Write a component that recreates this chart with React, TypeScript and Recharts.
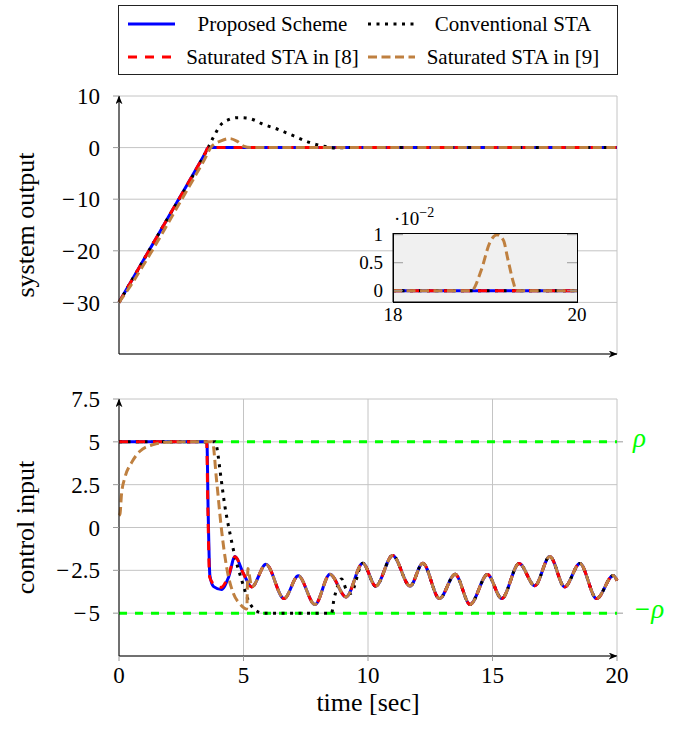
import React from "react";
import { LineChart, Line, XAxis, YAxis, CartesianGrid, ReferenceLine } from "recharts";

const FONT = '"Liberation Serif", "Times New Roman", serif';
const BLUE = "#0000ff";
const RED = "#ff0000";
const BLACK = "#000000";
const BROWN = "#bf8040";
const GREEN = "#00ff00";
const GRID = "#c4c4c4";
const TICK = "#9a9a9a";

// time axis
const timeTicks = [0, 5, 10, 15, 20];

// system output (top panel)
const outTicks = [-30, -20, -10, 0, 10];
const outProposedT = [0, 1.8, 3.45, 3.59, 20];
const outProposedY = [-30, -15, -1.2, 0, 0];
const outSat8T = [0, 1.8, 3.45, 3.59, 20];
const outSat8Y = [-30, -15, -1.2, 0, 0];
const outConvT = [0, 1.8, 3.45, 3.6, 3.78, 4.1, 4.4, 4.75, 5.1, 5.4, 5.75, 6.35, 7.0, 7.65, 8.3, 8.7, 9.1, 20];
const outConvY = [-30, -15, -1.2, 0.2, 1.9, 4.5, 5.4, 5.8, 5.75, 5.4, 4.6, 3.6, 2.3, 1.0, 0.2, -0.1, 0, 0];
const outSat9T = [0, 0.5, 1, 1.5, 2, 2.5, 3, 3.4, 3.7, 4.1, 4.45, 4.75, 5.0, 5.3, 20];
const outSat9Y = [-30, -26.5, -22.6, -18.6, -14.4, -10.2, -6, -2.6, 0.1, 1.3, 1.75, 1.2, 0.3, 0, 0];

// inset (x 10^-2), t in [18, 20]
const insetT = [18, 18.85, 18.96, 19.05, 19.13, 19.2, 19.25, 19.31, 19.34, 20];
const insetProposed = [0, 0, 0, 0, 0, 0, 0, 0, 0, 0];
const insetConv = [0, 0, 0, 0, 0, 0, 0, 0, 0, 0];
const insetSat8 = [0, 0, 0, 0, 0, 0, 0, 0, 0, 0];
const insetSat9 = [0, 0, 0.37, 0.85, 1.0, 0.9, 0.55, 0.14, 0, 0];

// control input (bottom panel)
const uTicks = [-5, -2.5, 0, 2.5, 5, 7.5];
const uTailT = [5.9, 6.63, 7.2, 7.87, 8.47, 9.12, 9.79, 10.31, 10.99, 11.69, 12.2, 12.87, 13.5, 14.1, 14.8, 15.37, 16.07, 16.7, 17.3, 17.9, 18.51, 19.18, 19.85, 20];
const uTailU = [-2.15, -4.15, -2.82, -4.5, -2.73, -4.05, -2.08, -3.42, -1.63, -3.42, -2.08, -4.15, -2.73, -4.49, -2.75, -4.15, -2.1, -3.4, -1.69, -3.47, -2.1, -4.15, -2.8, -3.1];
const uProposedT = [0, 3.53, 3.58, 3.65, 3.8, 4.12, 4.4, 4.66, 5.0, 5.33];
const uProposedU = [5, 5, 1, -2.8, -3.45, -3.62, -2.9, -1.69, -2.7, -3.47];
const uSat8T = [0, 3.52, 3.57, 3.64, 3.8, 4.1, 4.4, 4.66, 5.0, 5.33];
const uSat8U = [5, 5, 1, -2.9, -3.3, -3.5, -2.8, -1.7, -2.7, -3.47];
const uConvT = [0, 3.86, 3.99, 4.06, 4.26, 4.46, 4.66, 4.93, 5.19, 5.46, 5.8, 8.54, 8.62, 8.74, 8.94, 9.12, 9.3];
const uConvU = [5, 5, 4.1, 3.3, 1.18, -0.37, -1.72, -3.08, -4.24, -4.8, -5, -5, -4.3, -3.6, -3.0, -3.6, -3.85];
const uSat9T = [0, 0.04, 0.1, 0.24, 0.51, 0.84, 1.38, 1.9, 2.8, 3.75, 3.92, 4.12, 4.32, 4.59, 4.85, 5.13, 5.18, 5.26, 5.33];
const uSat9U = [0.7, 0.8, 1.93, 2.93, 3.8, 4.45, 4.84, 4.97, 5, 5, 2.73, -0.17, -2.3, -3.84, -4.45, -4.75, -2.4, -3.0, -3.47];
const rho = 5;

const pts = (t: number[], v: number[]) => t.map((x, i) => ({ t: x, v: v[i] }));
const tail = pts(uTailT, uTailU);

const SERIES = [
  { name: "Proposed Scheme", stroke: BLUE, dash: undefined as string | undefined },
  { name: "Conventional STA", stroke: BLACK, dash: "3 5.5" },
  { name: "Saturated STA in [8]", stroke: RED, dash: "9 8" },
  { name: "Saturated STA in [9]", stroke: BROWN, dash: "9 4.5" },
];

const outData = [
  pts(outProposedT, outProposedY),
  pts(outConvT, outConvY),
  pts(outSat8T, outSat8Y),
  pts(outSat9T, outSat9Y),
];
const insetData = [
  pts(insetT, insetProposed),
  pts(insetT, insetConv),
  pts(insetT, insetSat8),
  pts(insetT, insetSat9),
];
const uData = [
  [...pts(uProposedT, uProposedU), ...tail],
  [...pts(uConvT, uConvU), ...tail.filter((p) => p.t > 9.5)],
  [...pts(uSat8T, uSat8U), ...tail],
  [...pts(uSat9T, uSat9U), ...tail],
];

const fmt = (v: number) => (v < 0 ? "\u2212\u200a" + Math.abs(v) : String(v));
const tickStyle = { fontSize: 23, fill: "#000", fontFamily: FONT };

const Arrow = ({ id }: { id: string }) => (
  <defs>
    <marker id={id} viewBox="0 0 10 8" refX="9.5" refY="4" markerWidth="9" markerHeight="7" markerUnits="userSpaceOnUse" orient="auto-start-reverse">
      <path d="M0,0 L10,4 L0,8 L3,4 Z" fill="#000" />
    </marker>
  </defs>
);

const YLabel = ({ viewBox, text }: any) => {
  const x = 25;
  const y = viewBox.y + viewBox.height / 2;
  return (
    <text x={x} y={y} transform={`rotate(-90 ${x} ${y})`} textAnchor="middle" dominantBaseline="central" fontSize={26} fontFamily={FONT} fill="#000">
      {text}
    </text>
  );
};

const XLabel = ({ viewBox, text }: any) => (
  <text x={viewBox.x + viewBox.width / 2} y={viewBox.y + 55} textAnchor="middle" fontSize={26} fontFamily={FONT} fill="#000">
    {text}
  </text>
);

// tick + green label to the right of a reference line
const RhoLabel = ({ viewBox, text }: any) => {
  const x = viewBox.x + viewBox.width;
  const y = viewBox.y;
  return (
    <g>
      <line x1={x} x2={x + 6} y1={y} y2={y} stroke={TICK} />
      <text x={x + 16} y={y - 4} dominantBaseline="central" fontSize={27} fontStyle="italic" fontFamily={FONT} fill={GREEN}>
        {text}
      </text>
    </g>
  );
};

const INSET_W = 184;
const InsetYTick = ({ x, y, payload }: any) => (
  <g>
    <text x={x} y={y} textAnchor="end" dominantBaseline="central" fontSize={19} fontFamily={FONT} fill="#000">
      {payload.value}
    </text>
    <line x1={x + 10} x2={x + 20} y1={y} y2={y} stroke={TICK} />
    <line x1={x + 10 + INSET_W - 10} x2={x + 10 + INSET_W} y1={y} y2={y} stroke={TICK} />
  </g>
);

const InsetScale = ({ viewBox }: any) => (
  <text x={viewBox.x + viewBox.width + 1} y={viewBox.y - 8} fontSize={19} fontFamily={FONT} fill="#000">
    ·10
    <tspan dy={-8} fontSize={14}>
      −2
    </tspan>
  </text>
);

const renderLines = (data: { t: number; v: number }[][], yAxisId?: string) =>
  SERIES.map((s, i) => (
    <Line
      key={s.name}
      data={data[i]}
      dataKey="v"
      yAxisId={yAxisId}
      type="monotone"
      stroke={s.stroke}
      strokeWidth={3}
      strokeDasharray={s.dash}
      dot={false}
      activeDot={false}
      isAnimationActive={false}
    />
  ));

function LegendBox() {
  const cell = (s: (typeof SERIES)[number], left: number, top: number, textW: number) => (
    <>
      <svg width={47} height={10} style={{ position: "absolute", left, top: top - 5 }}>
        <line x1={0} x2={47} y1={5} y2={5} stroke={s.stroke} strokeWidth={3} strokeDasharray={s.dash} />
      </svg>
      <div style={{ position: "absolute", left: left + 47, top: top - 13, width: textW, textAlign: "center", fontSize: 21, lineHeight: "26px" }}>
        {s.name}
      </div>
    </>
  );
  return (
    <div style={{ position: "absolute", left: 118, top: 5, width: 500, height: 70, border: "1px solid #222", boxSizing: "border-box", background: "#fff", fontFamily: FONT }}>
      {cell(SERIES[0], 9, 18, 195)}
      {cell(SERIES[1], 249, 18, 196)}
      {cell(SERIES[2], 9, 51, 195)}
      {cell(SERIES[3], 249, 51, 196)}
    </div>
  );
}

export default function App() {
  return (
    <div style={{ position: "absolute", left: 0, top: 0, width: 686, height: 731, background: "#fff", fontFamily: FONT }}>
      <LineChart width={686} height={380} margin={{ top: 96, right: 69, bottom: 0, left: 0 }} style={{ position: "absolute", left: 0, top: 0 }}>
        <Arrow id="arrTop" />
        <CartesianGrid stroke={GRID} />
        <XAxis
          type="number"
          dataKey="t"
          domain={[0, 20]}
          ticks={timeTicks}
          height={26}
          tick={false}
          tickSize={5}
          tickLine={{ stroke: TICK }}
          axisLine={{ stroke: "#000", markerEnd: "url(#arrTop)" }}
        />
        <YAxis
          type="number"
          domain={[-40, 10]}
          ticks={outTicks}
          width={119}
          tick={tickStyle}
          tickFormatter={fmt}
          tickSize={6}
          tickMargin={13}
          tickLine={{ stroke: TICK }}
          axisLine={{ stroke: "#000", markerStart: "url(#arrTop)" }}
          label={<YLabel text="system output" />}
        />
        {renderLines(outData)}
      </LineChart>

      <LineChart width={270} height={130} margin={{ top: 28, right: 23, bottom: 0, left: 0 }} style={{ position: "absolute", left: 330, top: 205 }}>
        <CartesianGrid fill="#f0f0f0" horizontal={false} vertical={false} />
        <XAxis
          type="number"
          dataKey="t"
          domain={[18, 20]}
          ticks={[18, 20]}
          height={33}
          tickSize={0}
          tickMargin={6}
          tickLine={false}
          tick={{ fontSize: 19, fill: "#000", fontFamily: FONT }}
          axisLine={{ stroke: "#000" }}
        />
        <YAxis
          type="number"
          domain={[-0.2, 1.03]}
          ticks={[0, 0.5, 1]}
          width={63}
          tickSize={0}
          tickMargin={10}
          tickLine={false}
          tick={<InsetYTick />}
          axisLine={{ stroke: "#000" }}
          label={<InsetScale />}
        />
        {renderLines(insetData)}
      </LineChart>
      <div style={{ position: "absolute", left: 393, top: 233, width: INSET_W + 1, height: 70, border: "1px solid #000", boxSizing: "border-box", pointerEvents: "none" }} />

      <LineChart width={686} height={351} margin={{ top: 19, right: 69, bottom: 0, left: 0 }} style={{ position: "absolute", left: 0, top: 380 }}>
        <Arrow id="arrBot" />
        <CartesianGrid stroke={GRID} />
        <XAxis
          type="number"
          dataKey="t"
          domain={[0, 20]}
          ticks={timeTicks}
          height={75}
          tick={tickStyle}
          tickSize={5}
          tickMargin={6}
          tickLine={{ stroke: TICK }}
          axisLine={{ stroke: "#000", markerEnd: "url(#arrBot)" }}
          label={<XLabel text="time [sec]" />}
        />
        <YAxis
          type="number"
          domain={[-7.5, 7.5]}
          ticks={uTicks}
          width={119}
          tick={tickStyle}
          tickFormatter={fmt}
          tickSize={6}
          tickMargin={13}
          tickLine={{ stroke: TICK }}
          axisLine={{ stroke: "#000", markerStart: "url(#arrBot)" }}
          label={<YLabel text="control input" />}
        />
        <ReferenceLine y={rho} stroke={GREEN} strokeWidth={3} strokeDasharray="8 8" label={<RhoLabel text={"\u03c1"} />} />
        <ReferenceLine y={-rho} stroke={GREEN} strokeWidth={3} strokeDasharray="8 8" label={<RhoLabel text={"\u2212\u03c1"} />} />
        {renderLines(uData)}
      </LineChart>

      <LegendBox />
    </div>
  );
}
